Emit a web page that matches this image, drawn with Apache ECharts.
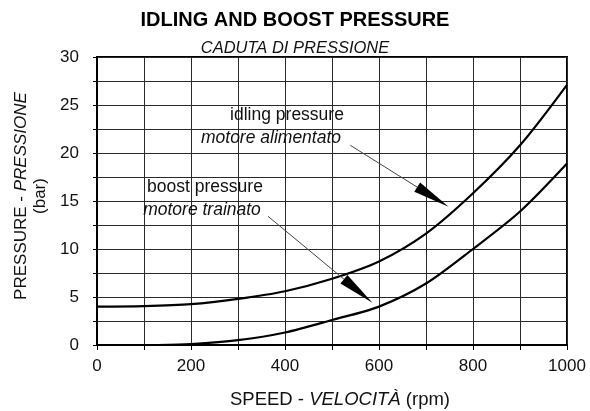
<!DOCTYPE html>
<html>
<head>
<meta charset="utf-8">
<script src="https://cdn.jsdelivr.net/npm/echarts@6/dist/echarts.min.js"></script>
<style>html,body{margin:0;padding:0;background:#fff;}#c{width:590px;height:411px;}</style>
</head>
<body>
<div id="c"></div>
<script>
// ---- data ----
const idlingRpm = [0, 100, 200, 300, 400, 500, 600, 700, 800, 900, 1000];
const idlingValues = [4.0, 4.05, 4.25, 4.8, 5.6, 6.9, 8.7, 11.6, 15.8, 20.8, 27.1];
const boostRpm = [130, 200, 300, 400, 500, 600, 700, 800, 900, 1000];
const boostValues = [0, 0.1, 0.5, 1.3, 2.6, 4.0, 6.4, 10.0, 13.9, 18.9];
const xTicks = [0, 200, 400, 600, 800, 1000];
const yTicks = [0, 5, 10, 15, 20, 25, 30];
// annotation arrows: [start, tip] in data space
const idlingArrow = [[539, 20.8], [748, 14.4]];
const boostArrow = [[364, 13.4], [586, 4.4]];

const FONT = '"Liberation Sans", Arial, sans-serif';
const chart = echarts.init(document.getElementById('c'));

const pair = (xs, ys) => xs.map((x, i) => [x, ys[i]]);

const option = {
  backgroundColor: '#fff',
  animation: false,
  title: [
    { text: 'IDLING AND BOOST PRESSURE', left: 'center', top: 5,
      textStyle: { fontFamily: FONT, fontSize: 20, fontWeight: 'bold', color: '#000' } },
    { text: 'CADUTA DI PRESSIONE', left: 'center', top: 35,
      textStyle: { fontFamily: FONT, fontSize: 16.5, fontWeight: 'normal', fontStyle: 'italic', color: '#111' } }
  ],
  grid: { left: 97, right: 23, top: 57, bottom: 66, show: true, borderColor: '#000', borderWidth: 2 },
  xAxis: {
    type: 'value', min: xTicks[0], max: xTicks[xTicks.length - 1], interval: 200,
    axisLine: { show: true, lineStyle: { color: '#000', width: 2 } },
    axisTick: { show: true, length: 5, lineStyle: { color: '#000', width: 1 } },
    minorTick: { show: true, splitNumber: 2, length: 5, lineStyle: { color: '#000', width: 1 } },
    splitLine: { show: true, lineStyle: { color: '#2a2a2a', width: 1 } },
    minorSplitLine: { show: true, lineStyle: { color: '#2a2a2a', width: 1 } },
    axisLabel: { fontFamily: FONT, fontSize: 17, color: '#111', margin: 13, formatter: v => String(v) }
  },
  yAxis: {
    type: 'value', min: yTicks[0], max: yTicks[yTicks.length - 1], interval: 5,
    axisLine: { show: true, lineStyle: { color: '#000', width: 2 } },
    axisTick: { show: true, length: 4, lineStyle: { color: '#000', width: 1 } },
    minorTick: { show: true, splitNumber: 2, length: 4, lineStyle: { color: '#000', width: 1 } },
    splitLine: { show: true, lineStyle: { color: '#2a2a2a', width: 1 } },
    minorSplitLine: { show: true, lineStyle: { color: '#2a2a2a', width: 1 } },
    axisLabel: { fontFamily: FONT, fontSize: 17, color: '#111', margin: 18 }
  },
  series: [
    { name: 'idling pressure', type: 'line', data: pair(idlingRpm, idlingValues),
      smooth: 0.3, showSymbol: false, lineStyle: { color: '#000', width: 2.2 } },
    { name: 'boost pressure', type: 'line', data: pair(boostRpm, boostValues),
      smooth: 0.3, showSymbol: false, lineStyle: { color: '#000', width: 2.2 } }
  ]
};
chart.setOption(option);

function arrowGraphics(arrow) {
  const s = chart.convertToPixel({ gridIndex: 0 }, arrow[0]);
  const t = chart.convertToPixel({ gridIndex: 0 }, arrow[1]);
  const dx = t[0] - s[0], dy = t[1] - s[1];
  const L = Math.hypot(dx, dy), ux = dx / L, uy = dy / L;
  const headLen = 37, headW = 11;
  const bx = t[0] - ux * headLen, by = t[1] - uy * headLen;
  const px = -uy * headW / 2, py = ux * headW / 2;
  return [
    { type: 'line', shape: { x1: s[0], y1: s[1], x2: bx, y2: by }, style: { stroke: '#444', lineWidth: 1 }, z: 10 },
    { type: 'polygon', shape: { points: [[t[0], t[1]], [bx + px, by + py], [bx - px, by - py]] },
      style: { fill: '#000' }, z: 10 }
  ];
}

const labelStyle = (txt, x, y, italic) => ({
  type: 'text', x: x, y: y, z: 11,
  style: { text: txt, fontFamily: FONT, fontSize: 17.5, fontStyle: italic ? 'italic' : 'normal',
    fill: '#111', align: 'center', verticalAlign: 'middle' }
});

chart.setOption({
  graphic: [
    ...arrowGraphics(idlingArrow),
    ...arrowGraphics(boostArrow),
    labelStyle('idling pressure', 287, 115, false),
    labelStyle('motore alimentato', 271, 138, true),
    labelStyle('boost pressure', 205, 187, false),
    labelStyle('motore trainato', 202, 210, true),
    { type: 'text', x: 31, y: 196, rotation: Math.PI / 2, z: 11,
      style: { text: '{a|PRESSURE - }{b|PRESSIONE}\n{c|(bar)}', align: 'center', verticalAlign: 'middle',
        rich: {
          a: { fontFamily: FONT, fontSize: 17, fill: '#111', lineHeight: 19 },
          b: { fontFamily: FONT, fontSize: 17, fontStyle: 'italic', fill: '#111', lineHeight: 19 },
          c: { fontFamily: FONT, fontSize: 17, fill: '#111', lineHeight: 19, align: 'center' }
        } } },
    { type: 'text', x: 340, y: 400, z: 11,
      style: { text: '{a|SPEED - }{b|VELOCITÀ}{a| (rpm)}', align: 'center', verticalAlign: 'middle',
        rich: {
          a: { fontFamily: FONT, fontSize: 18.5, fill: '#111' },
          b: { fontFamily: FONT, fontSize: 18.5, fontStyle: 'italic', fill: '#111' }
        } } }
  ]
});
</script>
</body>
</html>
